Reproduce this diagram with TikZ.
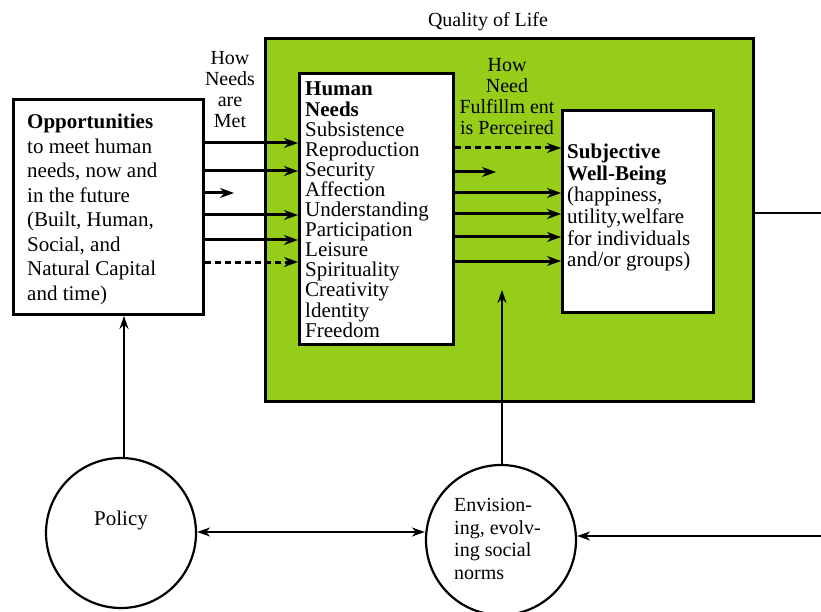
\documentclass[tikz,border=0pt]{standalone}
\usepackage{fontspec}
\setmainfont{Liberation Serif}
\usepackage{tikz}
\usetikzlibrary{
  arrows.meta,
  positioning,
  calc
}

\begin{document}
\begin{tikzpicture}[
  x=1pt, y=-1pt,
  every node/.style={font=\fontsize{21}{24.5}\selectfont},
  box/.style={draw, line width=3pt, fill=white, inner sep=0pt},
  ring/.style={draw, line width=2.2pt, circle, fill=white, inner sep=0pt, minimum size=150pt},
  lab/.style={align=center, font=\fontsize{20}{21}\selectfont},
  arr/.style={-{Stealth[length=14pt,width=10pt]}, line width=3pt},
  darr/.style={arr, dash pattern=on 6pt off 4pt},
  thin arr/.style={-{Stealth[length=13pt,width=9pt]}, line width=2pt}
]
  \definecolor{qolGreen}{RGB}{150,205,24}
  \useasboundingbox (0,0) rectangle (821,612);

  % quality of life frame
  \node[draw, line width=3pt, fill=qolGreen, inner sep=0pt,
        minimum width=488pt, minimum height=363pt, anchor=north west] (qol) at (264,37) {};
  \node[lab, above=3pt] (qollab) at (488,37) {Quality of Life};

  % boxes
  \node[box, minimum width=190pt, minimum height=215pt, anchor=north west] (opp) at (12,98) {};
  \node[anchor=north west, align=left, inner sep=0pt] (opptext) at (27,114) {%
    \textbf{Opportunities}\\ to meet human\\ needs, now and\\ in the future\\
    (Built, Human,\\ Social, and\\ Natural Capital\\ and time)};

  \node[box, minimum width=154pt, minimum height=271pt, anchor=north west] (needs) at (298,72) {};
  \node[anchor=north west, align=left, inner sep=0pt,
        font=\fontsize{21}{20.1}\selectfont] (needstext) at (305,82) {%
    \textbf{Human}\\ \textbf{Needs}\\ Subsistence\\ Reproduction\\ Security\\ Affection\\
    Understanding\\ Participation\\ Leisure\\ Spirituality\\ Creativity\\ ldentity\\ Freedom};

  \node[box, minimum width=151pt, minimum height=202pt, anchor=north west] (swb) at (561,109) {};
  \node[anchor=north west, align=left, inner sep=0pt,
        font=\fontsize{21}{21.6}\selectfont] (swbtext) at (567,144) {%
    \textbf{Subjective}\\ \textbf{Well-Being}\\ (happiness,\\ utility,welfare\\
    for individuals\\ and/or groups)};

  % labels over the arrows
  \node[lab] (metlab) at (230,90) {How\\ Needs\\ are\\ Met};
  \node[lab] (perclab) at (507,97) {How\\ Need\\ Fulfillm ent\\ is Perceired};

  % circles
  \node[ring] (policy) at (121,533) {};
  \node (policytext) at (121,520) {Policy};
  \node[ring] (envision) at (501,540) {};
  \node[anchor=north west, align=left, inner sep=0pt,
        font=\fontsize{20}{22.7}\selectfont] (envtext) at (454,498) {%
    Envision-\\ ing, evolv-\\ ing social\\ norms};

  % opportunities -> needs
  \foreach \y in {143,171,215,240}
    \draw[arr] (opp.east |- 0,\y) -- (needs.west |- 0,\y);
  \draw[arr] (opp.east |- 0,193) -- (234,193);
  \draw[darr] (opp.east |- 0,262) -- (needs.west |- 0,262);

  % needs -> well-being
  \foreach \y in {193,214,237,261}
    \draw[arr] (needs.east |- 0,\y) -- (swb.west |- 0,\y);
  \draw[arr] (needs.east |- 0,172) -- (496,172);
  \draw[darr] (needs.east |- 0,148) -- (swb.west |- 0,148);

  % feedback links
  \coordinate (outA) at (821,213);
  \coordinate (outB) at (821,536);
  \draw[line width=2.5pt] (qol.east |- outA) -- (outA);
  \draw[thin arr] (outB) -- (envision.east |- outB);
  \draw[{Stealth[length=13pt,width=9pt]}-{Stealth[length=13pt,width=9pt]}, line width=2.5pt]
    (policy.east |- 0,532) -- (envision.west |- 0,532);
  \draw[thin arr] (policy.north -| 124,0) -- (opp.south -| 124,0);
  \draw[thin arr] (envision.north -| 502,0) -- (502,290);
\end{tikzpicture}
\end{document}
